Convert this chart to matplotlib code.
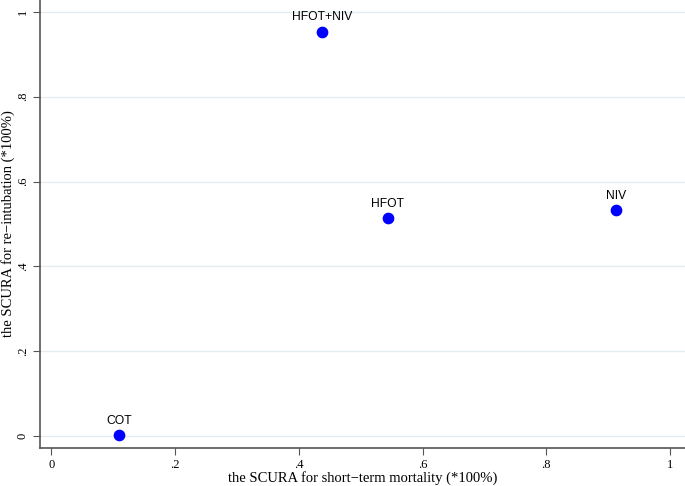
import matplotlib
matplotlib.use("Agg")
import matplotlib.pyplot as plt

# data
groups = ["COT", "HFOT+NIV", "HFOT", "NIV"]
scura_mortality = [0.110, 0.438, 0.544, 0.913]
scura_reintubation = [0.003, 0.953, 0.513, 0.533]
ticks = [0, 0.2, 0.4, 0.6, 0.8, 1.0]
tick_labels = ["0", ".2", ".4", ".6", ".8", "1"]

fig = plt.figure(figsize=(6.85, 4.86), dpi=100)
ax = fig.add_axes([40 / 685, 38 / 486, 645 / 685, 448 / 486])

ax.scatter(scura_mortality, scura_reintubation, s=55, color="#0000ff", zorder=3)
for g, x, y in zip(groups, scura_mortality, scura_reintubation):
    ax.annotate(g, (x, y), xytext=(0, 6), textcoords="offset points",
                ha="center", va="bottom", fontsize=8.7, family="Liberation Sans")

ax.set_xlim(-0.018, 1.024)
ax.set_ylim(-0.028, 1.028)
ax.set_xticks(ticks)
ax.set_xticklabels(tick_labels, family="Liberation Serif", fontsize=9)
ax.set_yticks(ticks)
ax.set_yticklabels(tick_labels, family="Liberation Serif", fontsize=9,
                   rotation=90, va="center")
ax.grid(axis="y", color="#e3edf0", linewidth=1)
ax.set_axisbelow(True)

for s in ["top", "right"]:
    ax.spines[s].set_visible(False)
for s in ["left", "bottom"]:
    ax.spines[s].set_color("#555555")
    ax.spines[s].set_linewidth(1.2)
ax.tick_params(direction="out", length=5, color="#555555", pad=3)

ax.set_xlabel("the SCURA for short\u2212term mortality (*100%)",
              family="Liberation Serif", fontsize=10.5, labelpad=0)
ax.set_ylabel("the SCURA for re\u2212intubation (*100%)",
              family="Liberation Serif", fontsize=10.5, labelpad=1)

fig.savefig("out.png", dpi=100)
